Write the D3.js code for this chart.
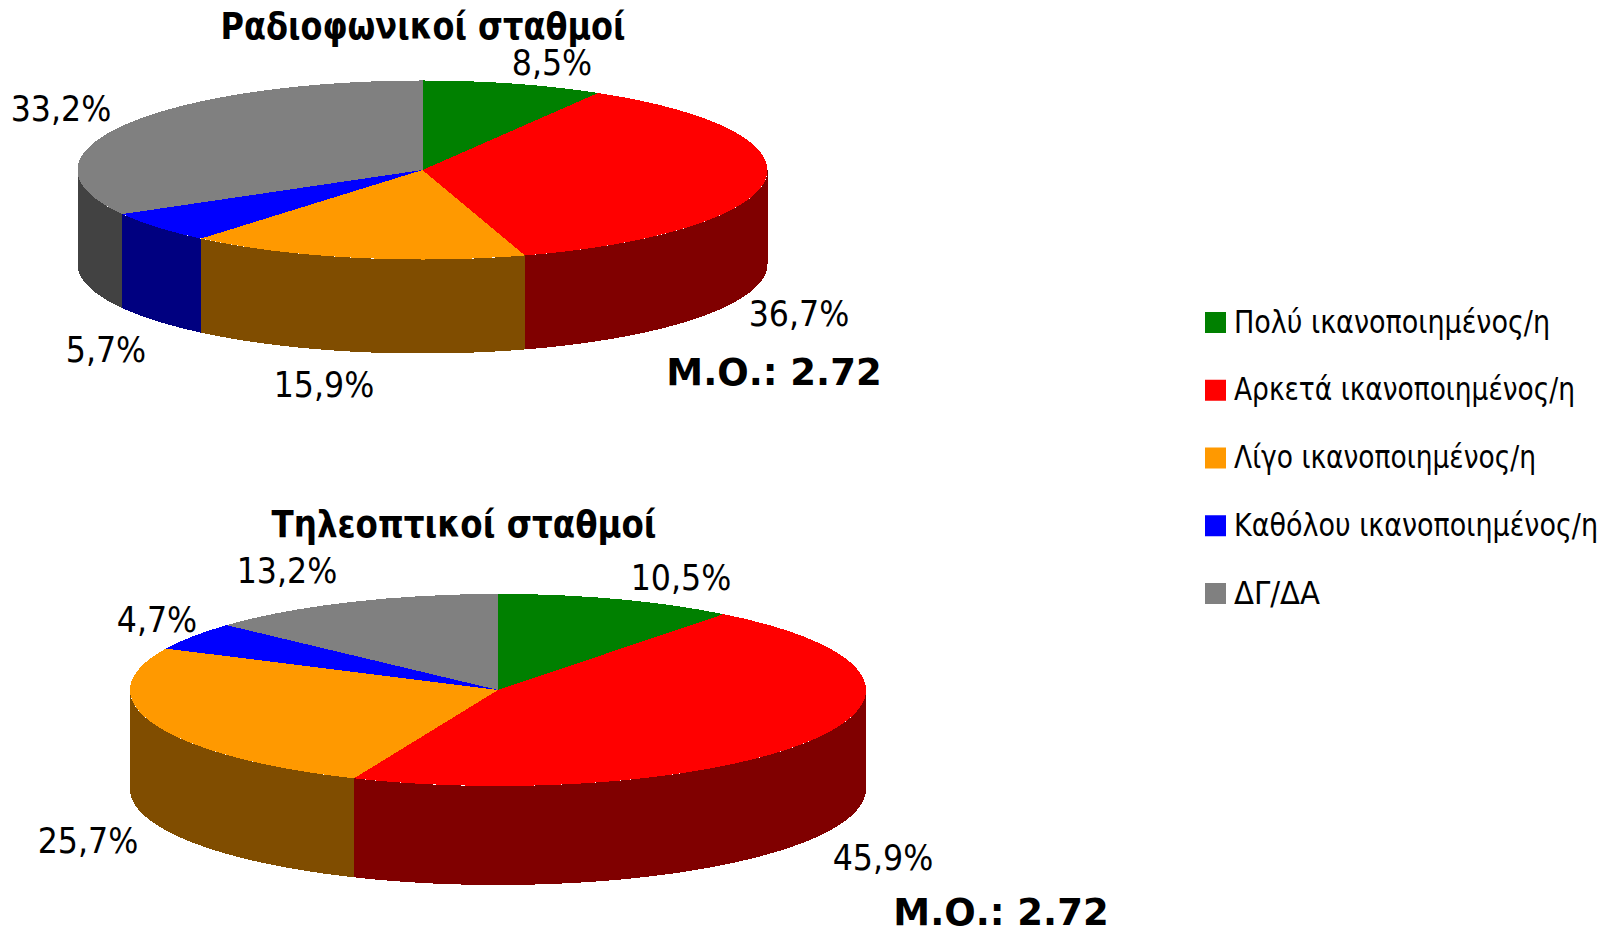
<!DOCTYPE html>
<html><head><meta charset="utf-8">
<script src="https://cdn.jsdelivr.net/npm/d3@7/dist/d3.min.js"></script>
<style>
html,body{margin:0;padding:0;background:#fff}
svg{display:block}
text{font-family:"DejaVu Sans Condensed","DejaVu Sans",sans-serif;font-stretch:condensed;fill:#000}
.verdana{font-family:"DejaVu Sans",sans-serif;font-stretch:normal}
</style></head><body>
<svg id="c" width="1602" height="928"></svg>
<script>
const categories=["Πολύ ικανοποιημένος/η","Αρκετά ικανοποιημένος/η","Λίγο ικανοποιημένος/η","Καθόλου ικανοποιημένος/η","ΔΓ/ΔΑ"];
const colors=["#008000","#ff0000","#ff9900","#0000ff","#808080"];
const sideColors=["#004000","#800000","#804d00","#000080","#424242"];
const radioValues=[8.5,36.7,15.9,5.7,33.2];
const tvValues=[10.5,45.9,25.7,4.7,13.2];
const radioLabels=["8,5%","36,7%","15,9%","5,7%","33,2%"];
const tvLabels=["10,5%","45,9%","25,7%","4,7%","13,2%"];
const meanText="Μ.Ο.: 2.72";

// layout
const legendWidths=[316,341,302,364,86];
const pies=[
 {title:"Ραδιοφωνικοί σταθμοί",values:radioValues,labels:radioLabels,cx:422.5,cy:170,rx:345,ry:89.5,depth:94,
  titleX:423,titleY:39,titleW:405,meanX:774,meanY:385,
  lx:[552,799,324,106,61],ly:[74.5,325.5,397,362,120.5]},
 {title:"Τηλεοπτικοί σταθμοί",values:tvValues,labels:tvLabels,cx:498,cy:690,rx:368,ry:96,depth:99,
  titleX:464,titleY:537,titleW:385,meanX:1001,meanY:925,
  lx:[681,883,88,157,287],ly:[589.5,870,853,631.5,583]}
];
const svg=d3.select("#c");
const pieGen=d3.pie().sort(null).value(d=>d);

pies.forEach(p=>{
  const g=svg.append("g").attr("shape-rendering","crispEdges");
  const arcs=pieGen(p.values);
  const px=a=>p.cx+p.rx*Math.sin(a), py=a=>p.cy-p.ry*Math.cos(a);
  const line=d3.line();
  // side walls: only the front half (90deg..270deg) of the rim shows
  const lo=Math.PI/2, hi=Math.PI*1.5;
  arcs.forEach((a,i)=>{
    const s=Math.max(a.startAngle,lo), e=Math.min(a.endAngle,hi);
    if(e<=s) return;
    const ts=d3.range(0,61).map(k=>d3.interpolateNumber(s,e)(k/60));
    const pts=ts.map(t=>[px(t),py(t)]).concat(ts.slice().reverse().map(t=>[px(t),py(t)+p.depth]));
    g.append("path").attr("d",line(pts)+"Z").attr("fill",sideColors[i]);
  });
  // top face
  const arc=d3.arc().innerRadius(0).outerRadius(p.rx);
  const top=g.append("g").attr("transform",`translate(${p.cx},${p.cy}) scale(1,${p.ry/p.rx})`);
  top.selectAll("path").data(arcs).join("path").attr("d",arc).attr("fill",(d,i)=>colors[i]);
  // texts
  svg.append("text").attr("x",p.titleX).attr("y",p.titleY).attr("text-anchor","middle").attr("font-weight","bold").attr("font-size",37)
     .attr("textLength",p.titleW).attr("lengthAdjust","spacingAndGlyphs").text(p.title);
  p.labels.forEach((t,i)=>svg.append("text").attr("x",p.lx[i]).attr("y",p.ly[i]).attr("text-anchor","middle").attr("font-size",35.2).text(t));
  svg.append("text").attr("class","verdana").attr("x",p.meanX).attr("y",p.meanY).attr("text-anchor","middle").attr("font-weight","bold").attr("font-size",37).text(meanText);
});

// legend
const ly=d3.scalePoint().domain(categories).range([312,583]);
const lg=svg.append("g");
lg.selectAll("rect").data(categories).join("rect").attr("x",1205).attr("y",d=>ly(d)).attr("width",21).attr("height",21).attr("fill",(d,i)=>colors[i]);
lg.selectAll("text").data(categories).join("text").attr("x",1234).attr("y",d=>ly(d)+20.5).attr("font-size",32)
  .attr("textLength",(d,i)=>legendWidths[i]).attr("lengthAdjust","spacingAndGlyphs").text(d=>d);
</script>
</body></html>
